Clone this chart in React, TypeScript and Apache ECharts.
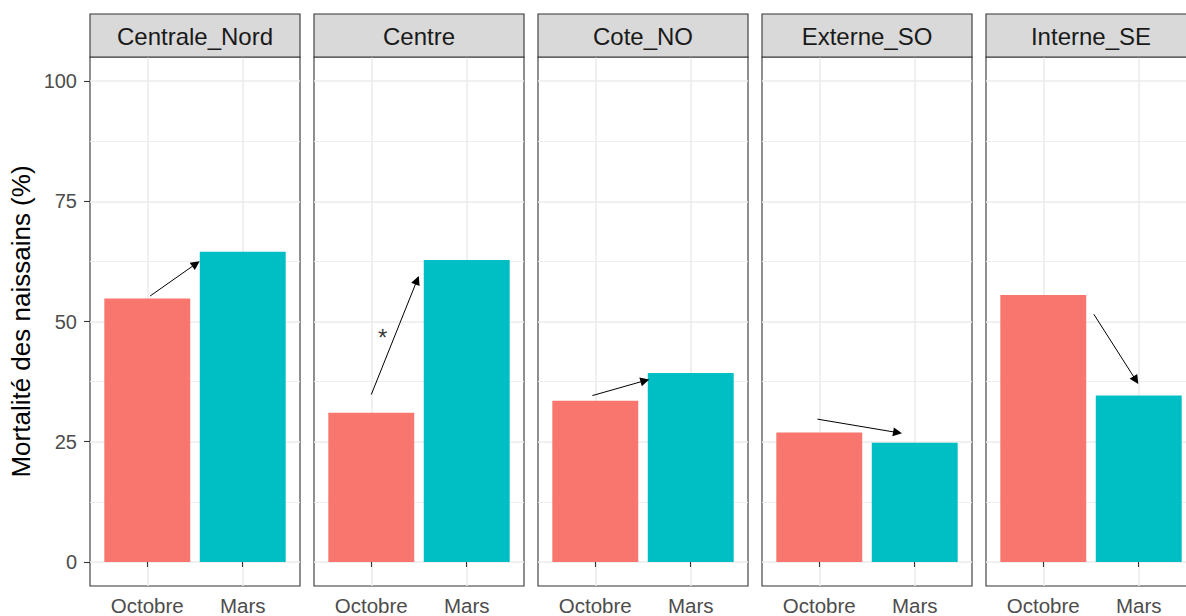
import React, { useEffect, useRef } from "react";
import * as echarts from "echarts";

// ---- data ----
const regions = ["Centrale_Nord", "Centre", "Cote_NO", "Externe_SO", "Interne_SE"];
const seasons = ["Octobre", "Mars"];
const octobreMortality = [54.8, 31.0, 33.5, 26.9, 55.5];
const marsMortality = [64.5, 62.8, 39.3, 24.8, 34.6];
const seasonColors = ["#F8766D", "#00BFC4"];

// arrows (x in discrete units: 1 = Octobre, 2 = Mars)
const arrowFromX = [1.03, 1.0, 0.97, 0.98, 1.53];
const arrowFromY = [55.3, 34.8, 34.6, 29.7, 51.5];
const arrowToX = [1.51, 1.48, 1.52, 1.82, 1.97];
const arrowToY = [62.0, 58.6, 37.7, 26.9, 37.8];

// significance marks
const starLabels = ["", "*", "", "", ""];
const starX = [0, 1.12, 0, 0, 0];
const starY = [0, 46.6, 0, 0, 0];

const yMajorTicks = [0, 25, 50, 75, 100];
const yMinorTicks = [12.5, 37.5, 62.5, 87.5];
const yTitle = "Mortalité des naissains (%)";

export default function App() {
  const ref = useRef<HTMLDivElement>(null);

  useEffect(() => {
    const chart = echarts.init(ref.current as HTMLDivElement, null, { renderer: "svg" });
    const font = "'Liberation Sans', Arial, Helvetica, sans-serif";
    const panelLeft0 = 90;
    const panelStep = 224;
    const panelW = 210;
    const panelTop = 57;
    const panelBottom = 588;
    const stripTop = 14;

    const grid: any[] = [];
    const xAxis: any[] = [];
    const yAxis: any[] = [];
    const series: any[] = [];
    const graphic: any[] = [];

    regions.forEach((name, i) => {
      const left = panelLeft0 + i * panelStep;
      grid.push({
        left,
        top: panelTop,
        width: panelW,
        height: panelBottom - panelTop,
        show: true,
        borderColor: "#333333",
        borderWidth: 1.1,
        backgroundColor: "#FFFFFF",
        containLabel: false,
      });
      xAxis.push({
        type: "value",
        gridIndex: i,
        min: 0.4,
        max: 2.6,
        axisLine: { show: false },
        axisTick: {
          show: true,
          customValues: [1, 2],
          length: 5,
          lineStyle: { color: "#333333", width: 1.1 },
        },
        axisLabel: {
          customValues: [1, 2],
          formatter: (v: number) => seasons[Math.round(v) - 1],
          color: "#4D4D4D",
          fontSize: 20.5,
          fontFamily: font,
          margin: 9,
        },
        splitLine: { show: true, lineStyle: { color: "#EBEBEB", width: 1.5 } },
      });
      yAxis.push({
        type: "value",
        gridIndex: i,
        min: -5,
        max: 105,
        axisLine: { show: false },
        axisTick: {
          show: i === 0,
          customValues: yMajorTicks,
          length: 6,
          lineStyle: { color: "#333333", width: 1.1 },
        },
        axisLabel: {
          show: i === 0,
          customValues: yMajorTicks,
          color: "#4D4D4D",
          fontSize: 20,
          fontFamily: font,
          margin: 13,
        },
        splitLine: { show: true, lineStyle: { color: "#EBEBEB", width: 1.5 } },
        name: i === 0 ? yTitle : "",
        nameLocation: "middle",
        nameGap: 56,
        nameRotate: 90,
        nameTextStyle: { color: "#000000", fontSize: 26, fontFamily: font },
      });
      yAxis.push({
        type: "value",
        gridIndex: i,
        min: -5,
        max: 105,
        position: "left",
        axisLine: { show: false },
        axisTick: { show: false, customValues: yMinorTicks },
        axisLabel: { show: false, customValues: yMinorTicks },
        splitLine: { show: true, lineStyle: { color: "#EEEEEE", width: 1 } },
      });

      series.push({
        type: "bar",
        xAxisIndex: i,
        yAxisIndex: i * 2,
        barWidth: (0.9 * panelW) / 2.2,
        silent: true,
        data: [
          { value: [1, octobreMortality[i]], itemStyle: { color: seasonColors[0] } },
          { value: [2, marsMortality[i]], itemStyle: { color: seasonColors[1] } },
        ],
        z: 2,
      });
      series.push({
        type: "lines",
        coordinateSystem: "cartesian2d",
        xAxisIndex: i,
        yAxisIndex: i * 2,
        silent: true,
        symbol: ["none", "triangle"],
        symbolSize: [7, 9],
        symbolOffset: [0, 4.5],
        lineStyle: { color: "#000000", width: 1, opacity: 1 },
        data: [
          {
            coords: [
              [arrowFromX[i], arrowFromY[i]],
              [arrowToX[i], arrowToY[i]],
            ],
          },
        ],
        z: 5,
      });
      if (starLabels[i]) {
        series.push({
          type: "scatter",
          xAxisIndex: i,
          yAxisIndex: i * 2,
          silent: true,
          symbol: "circle",
          symbolSize: 1,
          itemStyle: { color: "rgba(0,0,0,0)" },
          label: {
            show: true,
            position: "inside",
            formatter: starLabels[i],
            fontSize: 24,
            color: "#000000",
            fontFamily: font,
          },
          data: [[starX[i], starY[i]]],
          z: 6,
        });
      }

      graphic.push({
        type: "rect",
        shape: { x: left, y: stripTop, width: panelW, height: panelTop - stripTop },
        style: { fill: "#D9D9D9", stroke: "#333333", lineWidth: 1.1 },
        z: 10,
      });
      graphic.push({
        type: "text",
        x: left + panelW / 2,
        y: (stripTop + panelTop) / 2 + 1,
        style: {
          text: name,
          fill: "#1A1A1A",
          fontSize: 24,
          fontFamily: font,
          align: "center",
          verticalAlign: "middle",
        },
        z: 11,
      });
    });

    chart.setOption({
      animation: false,
      backgroundColor: "#FFFFFF",
      grid,
      xAxis,
      yAxis,
      series,
      graphic,
    });

    return () => chart.dispose();
  }, []);

  return (
    <div style={{ position: "fixed", left: 0, top: 0, width: 1186, height: 616, overflow: "hidden", background: "#FFFFFF" }}>
      <div ref={ref} style={{ width: 1220, height: 616 }} />
    </div>
  );
}
